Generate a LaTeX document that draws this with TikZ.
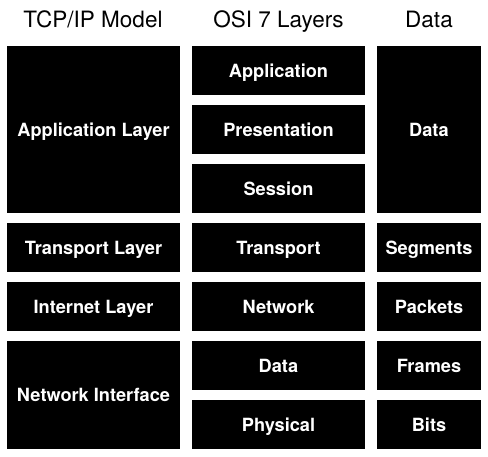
\documentclass[tikz,border=0pt]{standalone}
\usepackage{fontspec}
\setmainfont{TeX Gyre Heros}

\begin{document}
\begin{tikzpicture}[x=1pt, y=-1pt,
    layer/.style={fill=black, text=white, inner sep=0pt, text height=13, text depth=0,
        font=\fontsize{18.2}{20}\selectfont\bfseries},
    head/.style={anchor=base, font=\fontsize{22.5}{24}\selectfont}]
    \useasboundingbox (0,0) rectangle (488,456);

    % Column headers
    \node[head] (tcphead) at (93,27.5) {TCP/IP Model};
    \node[head] (osihead) at (278.5,27.5) {OSI 7 Layers};
    \node[head] (datahead) at (429,27.5) {Data};

    % TCP/IP model
    \node[layer, minimum width=173, minimum height=167] (tcpapp) at (93.5,129.5) {Application Layer};
    \node[layer, minimum width=173, minimum height=49] (tcptrans) at (93.5,247.5) {Transport Layer};
    \node[layer, minimum width=173, minimum height=49] (tcpnet) at (93.5,306.5) {Internet Layer};
    \node[layer, minimum width=173, minimum height=108] (tcplink) at (93.5,395) {Network Interface};

    % OSI 7 layers
    \node[layer, minimum width=173, minimum height=49] (osiapp) at (278.5,70.5) {Application};
    \node[layer, minimum width=173, minimum height=49] (osipres) at (278.5,129.5) {Presentation};
    \node[layer, minimum width=173, minimum height=49] (osisess) at (278.5,188.5) {Session};
    \node[layer, minimum width=173, minimum height=49] (ositrans) at (278.5,247.5) {Transport};
    \node[layer, minimum width=173, minimum height=49] (osinet) at (278.5,306.5) {Network};
    \node[layer, minimum width=173, minimum height=49] (osidata) at (278.5,365.5) {Data};
    \node[layer, minimum width=173, minimum height=49] (osiphys) at (278.5,424.5) {Physical};

    % Data units
    \node[layer, minimum width=104, minimum height=167] (pdudata) at (429,129.5) {Data};
    \node[layer, minimum width=104, minimum height=49] (pduseg) at (429,247.5) {Segments};
    \node[layer, minimum width=104, minimum height=49] (pdupkt) at (429,306.5) {Packets};
    \node[layer, minimum width=104, minimum height=49] (pduframe) at (429,365.5) {Frames};
    \node[layer, minimum width=104, minimum height=49] (pdubits) at (429,424.5) {Bits};
\end{tikzpicture}
\end{document}
